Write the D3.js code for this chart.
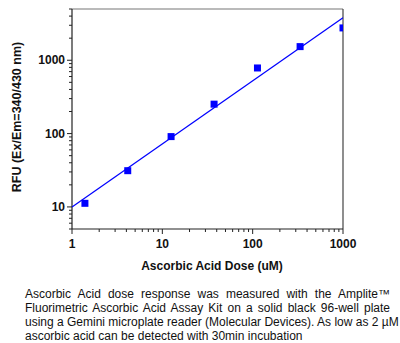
<!DOCTYPE html>
<html>
<head>
<meta charset="utf-8">
<script src="https://cdn.jsdelivr.net/npm/d3@7"></script>
<style>
  body { margin: 0; background: #fff; }
  #chart { position: relative; width: 400px; height: 343px; }
  .cap { position: absolute; left: 25px; width: 365px; font: 12px Arial, "Liberation Sans", sans-serif; color: #111; }
  .cap div { text-align: justify; text-align-last: justify; height: 14px; line-height: 14px; white-space: nowrap; }
  .cap div.last { text-align-last: left; }
</style>
</head>
<body>
<div id="chart"></div>
<script>
// measured points
var doseUM = [1.39, 4.14, 12.5, 37.4, 113, 335, 1000];
var rfu = [11.2, 31.2, 91, 252, 785, 1535, 2760];
// fitted line end points
var fitDose = [1, 1000];
var fitRfu = [10, 3800];
var xTicks = [1, 10, 100, 1000];
var yTicks = [10, 100, 1000];
var caption = [
  "Ascorbic Acid dose response was measured with the Amplite\u2122",
  "Fluorimetric Ascorbic Acid Assay Kit on a solid black 96-well plate",
  "using a Gemini microplate reader (Molecular Devices). As low as 2 \u00b5M",
  "ascorbic acid can be detected with 30min incubation"
];

var W = 400, H = 343,
    margin = {left: 72, right: 57, top: 9, bottom: 114};

var svg = d3.select("#chart").append("svg")
    .attr("width", W).attr("height", H)
    .style("position", "absolute").style("left", 0).style("top", 0);

var x = d3.scaleLog().domain([1, 1000]).range([margin.left, W - margin.right]);
var y = d3.scaleLog().domain([5, 5000]).range([H - margin.bottom, margin.top]);

var font = "Arial, 'Liberation Sans', sans-serif";

// minor ticks
function minors(dom) {
  var out = [];
  for (var e = -1; e < 5; e++) {
    for (var k = 1; k < 10; k++) {
      var v = k * Math.pow(10, e);
      if (v >= dom[0] - 1e-9 && v <= dom[1] + 1e-9) out.push(v);
    }
  }
  return out;
}

var g = svg.append("g");

// frame top and right
g.append("line").attr("x1", x(1)).attr("x2", x(1000)).attr("y1", y(5000)).attr("y2", y(5000))
  .attr("stroke", "#777").attr("stroke-width", 1.2);
g.append("line").attr("x1", x(1000)).attr("x2", x(1000)).attr("y1", y(5000)).attr("y2", y(5))
  .attr("stroke", "#444").attr("stroke-width", 1.2);

// x axis
var xAxis = g.append("g").attr("transform", "translate(0," + y(5) + ")");
xAxis.append("line").attr("x1", x(1)).attr("x2", x(1000)).attr("stroke", "#222").attr("stroke-width", 1.2);
xAxis.selectAll("line.minor").data(minors(x.domain())).enter().append("line")
  .attr("class", "minor")
  .attr("x1", function(d) { return x(d); }).attr("x2", function(d) { return x(d); })
  .attr("y1", 0).attr("y2", function(d) { return xTicks.indexOf(d) >= 0 ? 5 : 3; })
  .attr("stroke", "#222");
xAxis.selectAll("text").data(xTicks).enter().append("text")
  .attr("x", function(d) { return x(d); }).attr("y", 19)
  .attr("text-anchor", "middle")
  .style("font", "bold 12px " + font).attr("fill", "#111")
  .text(function(d) { return d; });

// y axis
var yAxis = g.append("g").attr("transform", "translate(" + x(1) + ",0)");
yAxis.append("line").attr("y1", y(5)).attr("y2", y(5000)).attr("stroke", "#222").attr("stroke-width", 1.2);
yAxis.selectAll("line.minor").data(minors(y.domain())).enter().append("line")
  .attr("class", "minor")
  .attr("y1", function(d) { return y(d); }).attr("y2", function(d) { return y(d); })
  .attr("x1", 0).attr("x2", function(d) { return yTicks.indexOf(d) >= 0 ? -5 : -3; })
  .attr("stroke", "#222");
yAxis.selectAll("text").data(yTicks).enter().append("text")
  .attr("x", -7).attr("y", function(d) { return y(d) + 4; })
  .attr("text-anchor", "end")
  .style("font", "bold 12px " + font).attr("fill", "#111")
  .text(function(d) { return d; });

// titles
svg.append("text").attr("x", 212).attr("y", 270)
  .attr("text-anchor", "middle").style("font", "bold 12px " + font).attr("fill", "#111")
  .text("Ascorbic Acid Dose (uM)");
svg.append("text")
  .attr("transform", "translate(21,117) rotate(-90)")
  .attr("text-anchor", "middle").style("font", "bold 12.5px " + font).attr("fill", "#111")
  .text("RFU (Ex/Em=340/430 nm)");

// clip to plot
svg.append("clipPath").attr("id", "clip").append("rect")
  .attr("x", x(1)).attr("y", y(5000)).attr("width", x(1000) - x(1)).attr("height", y(5) - y(5000));

var plot = svg.append("g").attr("clip-path", "url(#clip)");

var line = d3.line().x(function(d) { return x(d[0]); }).y(function(d) { return y(d[1]); });
plot.append("path").datum(d3.zip(fitDose, fitRfu))
  .attr("d", line).attr("fill", "none").attr("stroke", "#0000ff").attr("stroke-width", 1.3);

var s = 7;
plot.selectAll("rect.pt").data(d3.zip(doseUM, rfu)).enter().append("rect")
  .attr("class", "pt")
  .attr("x", function(d) { return x(d[0]) - s / 2; })
  .attr("y", function(d) { return y(d[1]) - s / 2; })
  .attr("width", s).attr("height", s).attr("fill", "#0000ff");

// caption
var cap = d3.select("#chart").append("div").attr("class", "cap").style("top", "287px");
cap.selectAll("div").data(caption).enter().append("div")
  .classed("last", function(d, i) { return i === caption.length - 1; })
  .text(function(d) { return d; });
</script>
</body>
</html>
